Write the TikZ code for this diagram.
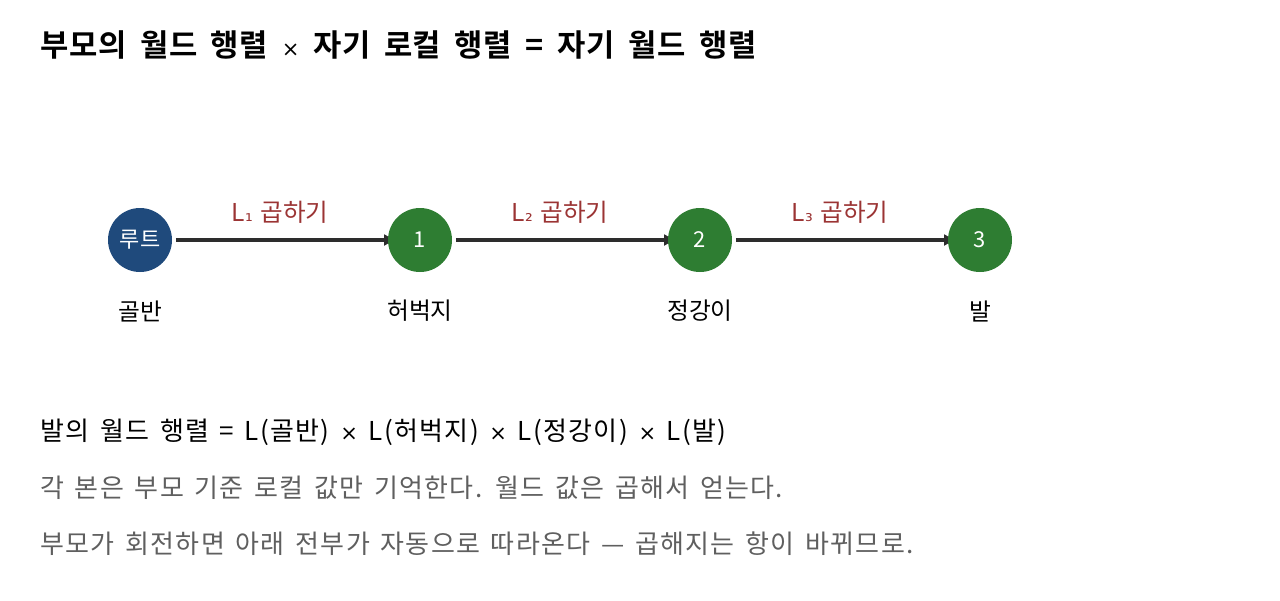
\documentclass[tikz,border=0pt]{standalone}
\usepackage{fontspec}
\setmainfont{Noto Sans CJK KR}[BoldFont={Noto Sans CJK KR Bold},WordSpace=1.4]
\newfontfamily\titleFont{Noto Sans CJK KR Bold}[LetterSpace=2,WordSpace=1.8]
\newfontfamily\noteFont{Noto Sans CJK KR}[LetterSpace=5,WordSpace=1.5]
\newfontfamily\symFont{DejaVu Sans}
\usetikzlibrary{arrows.meta}
\usetikzlibrary{backgrounds}
\definecolor{rootColor}{RGB}{31,74,124}
\definecolor{boneColor}{RGB}{46,125,50}
\definecolor{mulColor}{RGB}{155,52,52}
\definecolor{edgeColor}{RGB}{45,45,45}
\definecolor{noteColor}{RGB}{95,95,95}
\newcommand{\sub}[1]{{\symFont\fontsize{11}{12}\selectfont #1}}
\newcommand{\by}{{\symFont\fontsize{12}{12}\selectfont ×}}

\begin{document}
\begin{tikzpicture}

          \tikzstyle{boneNode} = [circle,minimum size=1.28cm,inner sep=0pt,text=white,font=\fontsize{12.5}{14}\selectfont];
          \tikzstyle{rootBone} = [boneNode,fill=rootColor];
          \tikzstyle{childBone} = [boneNode,fill=boneColor];
          \tikzstyle{boneEdge} = [edgeColor,line width=2.3pt,-{Latex[length=7pt,width=7pt]},shorten >=-5pt,shorten <=2pt];
          \tikzstyle{mulLabel} = [mulColor,font=\fontsize{14}{16}\selectfont];
          \tikzstyle{boneName} = [black,font=\fontsize{13.5}{16}\selectfont];
          \tikzstyle{noteText} = [anchor=west,inner sep=0pt,font=\noteFont\fontsize{14.8}{17}\selectfont];

          \useasboundingbox (0,0) rectangle (25.6,-12);

          \node[anchor=west,inner sep=0pt,font=\titleFont\fontsize{17.5}{20}\selectfont] (title) at (0.8,-0.9) {부모의 월드 행렬 \by{} 자기 로컬 행렬 = 자기 월드 행렬};

          \node[rootBone] (r) at (2.8,-4.8) {루트};
          \node[childBone] (b1) at (8.4,-4.8) {1};
          \node[childBone] (b2) at (14,-4.8) {2};
          \node[childBone] (b3) at (19.6,-4.8) {3};

          \node[mulLabel] (m1) at (5.6,-4.24) {L\sub{₁} 곱하기};
          \node[mulLabel] (m2) at (11.2,-4.24) {L\sub{₂} 곱하기};
          \node[mulLabel] (m3) at (16.8,-4.24) {L\sub{₃} 곱하기};

          \node[boneName] (nr) at (2.8,-6.22) {골반};
          \node[boneName] (n1) at (8.4,-6.22) {허벅지};
          \node[boneName] (n2) at (14,-6.22) {정강이};
          \node[boneName] (n3) at (19.6,-6.22) {발};

          \begin{pgfonlayer}{background}
          \draw[boneEdge] (r) -- (b1);
          \draw[boneEdge] (b1) -- (b2);
          \draw[boneEdge] (b2) -- (b3);
          \end{pgfonlayer}

          \node[noteText] (chain) at (0.8,-8.64) {발의 월드 행렬 = L(골반) \by{} L(허벅지) \by{} L(정강이) \by{} L(발)};
          \node[noteText,noteColor] (local) at (0.8,-9.76) {각 본은 부모 기준 로컬 값만 기억한다. 월드 값은 곱해서 얻는다.};
          \node[noteText,noteColor] (follow) at (0.8,-10.88) {부모가 회전하면 아래 전부가 자동으로 따라온다 — 곱해지는 항이 바뀌므로.};
        \end{tikzpicture}
\end{document}
